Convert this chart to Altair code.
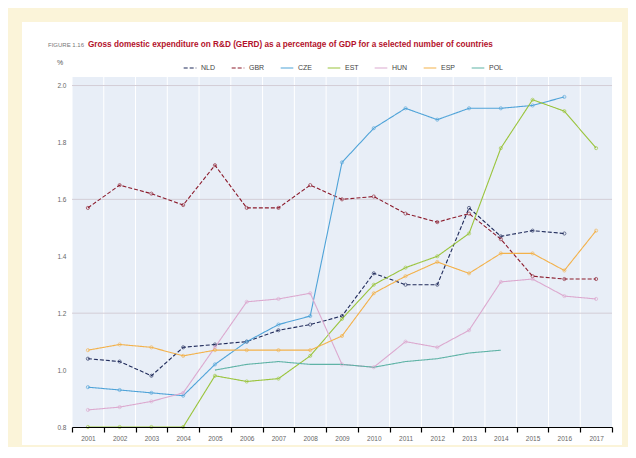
import altair as alt
import pandas as pd

years = [str(y) for y in range(2001, 2018)]
series_names = ["NLD", "GBR", "CZE", "EST", "HUN", "ESP", "POL"]
series_colors = ["#1f2a5a", "#8b1a2b", "#4fa3d8", "#9ac43c", "#dca9cf", "#f3b14a", "#5fb3a6"]
series_dash = [[4, 2], [4, 2], [1, 0], [1, 0], [1, 0], [1, 0], [1, 0]]
with_markers = ["NLD", "GBR", "CZE", "EST", "HUN", "ESP"]

nld = [1.04, 1.03, 0.98, 1.08, 1.09, 1.10, 1.14, 1.16, 1.19, 1.34, 1.30, 1.30, 1.57, 1.47, 1.49, 1.48, None]
gbr = [1.57, 1.65, 1.62, 1.58, 1.72, 1.57, 1.57, 1.65, 1.60, 1.61, 1.55, 1.52, 1.55, 1.46, 1.33, 1.32, 1.32]
cze = [0.94, 0.93, 0.92, 0.91, 1.02, 1.10, 1.16, 1.19, 1.73, 1.85, 1.92, 1.88, 1.92, 1.92, 1.93, 1.96, None]
est = [0.80, 0.80, 0.80, 0.80, 0.98, 0.96, 0.97, 1.05, 1.18, 1.30, 1.36, 1.40, 1.48, 1.78, 1.95, 1.91, 1.78]
hun = [0.86, 0.87, 0.89, 0.92, 1.08, 1.24, 1.25, 1.27, 1.02, 1.01, 1.10, 1.08, 1.14, 1.31, 1.32, 1.26, 1.25]
esp = [1.07, 1.09, 1.08, 1.05, 1.07, 1.07, 1.07, 1.07, 1.12, 1.27, 1.33, 1.38, 1.34, 1.41, 1.41, 1.35, 1.49]
pol = [None, None, None, None, 1.00, 1.02, 1.03, 1.02, 1.02, 1.01, 1.03, 1.04, 1.06, 1.07, None, None, None]

y_ticks = [0.8, 1.0, 1.2, 1.4, 1.6, 1.8, 2.0]
grid_values = [1.2, 1.6, 2.0]

title_prefix = "FIGURE 1.16"
title_main = "Gross domestic expenditure on R&D (GERD) as a percentage of GDP for a selected number of countries"
unit_label = "%"

rows = []
for name, vals in zip(series_names, [nld, gbr, cze, est, hun, esp, pol]):
    for yr, v in zip(years, vals):
        if v is not None:
            rows.append({"series": name, "year": yr, "value": v})
df = pd.DataFrame(rows)
df_pts = df[df["series"].isin(with_markers)]

W, H = 540, 350
one = pd.DataFrame({"a": [0]})

x_scale = alt.Scale(type="band", domain=years, paddingInner=0, paddingOuter=0)
y_scale = alt.Scale(domain=[0.8, 2.03], nice=False, zero=False)

x_axis = alt.Axis(title=None, tickBand="extent", labelAngle=0, labelFontSize=6.5,
                  labelColor="#666666", domainColor="#000000", tickColor="#000000",
                  tickSize=5, tickWidth=1.2, grid=False, labelPadding=3, zindex=1)
y_axis = alt.Axis(title=None, values=y_ticks, format=".1f", labelFontSize=6.5,
                  labelColor="#666666", domain=False, ticks=False, grid=False, labelPadding=6,
                  zindex=1)

legend = alt.Legend(title=None, orient="none", legendX=111, legendY=-16, direction="horizontal",
                    symbolType="stroke", symbolSize=160, symbolStrokeWidth=1.2,
                    labelFontSize=7, labelColor="#444444", columnPadding=13, symbolOffset=0)

color = alt.Color("series:N", scale=alt.Scale(domain=series_names, range=series_colors), legend=legend)
dash = alt.StrokeDash("series:N", scale=alt.Scale(domain=series_names, range=series_dash), legend=legend)

white_bg = alt.Chart(one).mark_rect(color="white").encode(
    x=alt.value(-50), x2=alt.value(W + 10), y=alt.value(-55), y2=alt.value(H + 18))
plot_bg = alt.Chart(one).mark_rect(color="#e8eef7").encode(
    x=alt.value(0), x2=alt.value(W), y=alt.value(0), y2=alt.value(H))

vgrid = alt.Chart(pd.DataFrame({"year": years})).mark_rule(color="#ffffff", strokeWidth=1).encode(
    x=alt.X("year:O", scale=x_scale, axis=x_axis, bandPosition=0))
hgrid = alt.Chart(pd.DataFrame({"v": grid_values})).mark_rule(color="#d3cdd6", strokeWidth=1).encode(
    y=alt.Y("v:Q", scale=y_scale, axis=y_axis))

lines = alt.Chart(df).mark_line(strokeWidth=1.1).encode(
    x=alt.X("year:O", scale=x_scale, axis=x_axis, bandPosition=0.5),
    y=alt.Y("value:Q", scale=y_scale, axis=y_axis),
    color=color, strokeDash=dash, detail="series:N")

points = alt.Chart(df_pts).mark_point(shape="circle", size=10, filled=False, strokeWidth=0.9).encode(
    x=alt.X("year:O", scale=x_scale, axis=x_axis, bandPosition=0.5),
    y=alt.Y("value:Q", scale=y_scale, axis=y_axis),
    color=alt.Color("series:N", scale=alt.Scale(domain=series_names, range=series_colors), legend=None))

t1 = alt.Chart(one).mark_text(align="left", baseline="middle", fontSize=6, color="#777777",
                              font="Liberation Sans").encode(
    x=alt.value(-24), y=alt.value(-32), text=alt.value(title_prefix))
t2 = alt.Chart(one).mark_text(align="left", baseline="middle", fontSize=8.2, fontWeight="bold",
                              color="#b3122b", font="Liberation Sans").encode(
    x=alt.value(16), y=alt.value(-32), text=alt.value(title_main))
t3 = alt.Chart(one).mark_text(align="left", baseline="middle", fontSize=7, color="#555555",
                              font="Liberation Sans").encode(
    x=alt.value(-15), y=alt.value(-14), text=alt.value(unit_label))

chart = alt.layer(white_bg, plot_bg, vgrid, hgrid, lines, points, t1, t2, t3).properties(
    width=W, height=H,
    autosize=alt.AutoSizeParams(type="none"),
    padding={"left": 64, "top": 69, "right": 16, "bottom": 20},
    background="#fbf4d9",
).configure_view(stroke=None).configure(font="Liberation Sans")

chart.save("out.html", embed_options={"renderer": "svg", "actions": False})
